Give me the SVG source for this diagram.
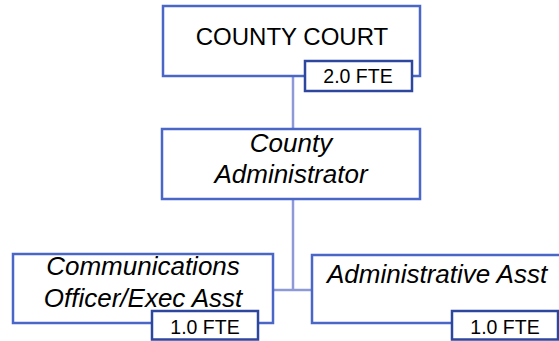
<svg xmlns="http://www.w3.org/2000/svg" width="559" height="341" viewBox="0 0 559 341">
  <style>
    .box { fill: #ffffff; stroke: #4a66c6; stroke-width: 2.5; }
    .fte { fill: #ffffff; stroke: #2d479e; stroke-width: 2.5; }
    .link { fill: none; stroke: #8e9ad8; stroke-width: 2.5; }
    .t { font-family: "Liberation Sans", Arial, sans-serif; fill: #000000; }
    .title { font-size: 24px; text-anchor: middle; }
    .role { font-size: 26px; font-style: italic; }
    .ftetxt { font-size: 19.5px; text-anchor: middle; }
  </style>
  <rect width="559" height="341" fill="#ffffff"/>

  <g id="connectors">
    <path class="link" d="M293,76 V129"/>
    <path class="link" d="M293,199 V290"/>
    <path class="link" d="M273,290 H312"/>
  </g>

  <g id="county-court">
    <rect class="box" x="163" y="6" width="257" height="70"/>
    <text class="t title" x="292" y="45">COUNTY COURT</text>
    <rect class="fte" x="305" y="61" width="107" height="30"/>
    <text class="t ftetxt" x="358" y="83">2.0 FTE</text>
  </g>

  <g id="county-administrator">
    <rect class="box" x="162" y="129" width="258" height="70"/>
    <text class="t role" x="291" y="152" text-anchor="middle">County</text>
    <text class="t role" x="291" y="183" text-anchor="middle">Administrator</text>
  </g>

  <g id="communications-officer">
    <rect class="box" x="13" y="254" width="260" height="69"/>
    <text class="t role" x="143" y="275" text-anchor="middle">Communications</text>
    <text class="t role" x="143" y="307" text-anchor="middle">Officer/Exec Asst</text>
    <rect class="fte" x="152" y="311" width="106" height="28.5"/>
    <text class="t ftetxt" x="205" y="334">1.0 FTE</text>
  </g>

  <g id="administrative-asst">
    <rect class="box" x="312" y="255" width="260" height="68"/>
    <text class="t role" x="327" y="283">Administrative Asst</text>
    <rect class="fte" x="452" y="311" width="106" height="28.5"/>
    <text class="t ftetxt" x="505" y="334">1.0 FTE</text>
  </g>
</svg>
